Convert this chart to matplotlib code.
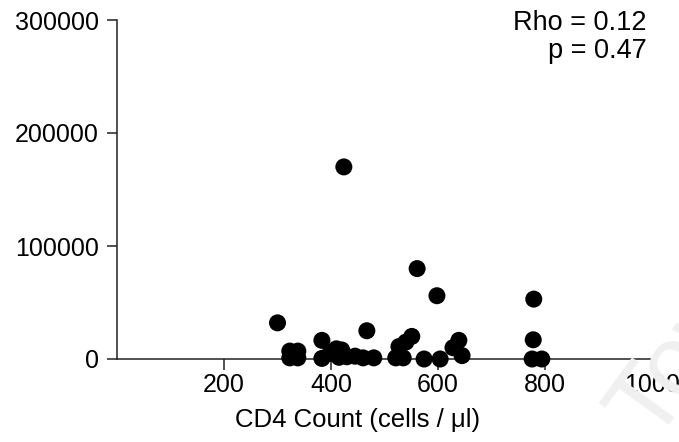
import matplotlib.pyplot as plt

plt.rcParams['font.family'] = ['Liberation Sans', 'DejaVu Sans']

# CD4 count (cells/ul) vs value
cd4 = [300, 323, 338, 323, 338, 383, 383, 410, 420, 398,
       424, 415, 430, 445, 460, 480, 467, 521, 535, 527,
       540, 551, 561, 574, 598, 604, 628, 639, 645,
       779, 778, 776, 794]
vals = [32000, 7000, 7000, 1000, 1000, 16500, 500, 9000, 8000, 5000,
        170000, 1500, 2000, 2500, 1000, 1000, 25000, 1000, 1000, 11000,
        15000, 20000, 80000, 0, 56000, 0, 10000, 16500, 3000,
        53000, 17000, 0, 0]

xticks = [200, 400, 600, 800, 1000]
yticks = [0, 100000, 200000, 300000]

fig = plt.figure(figsize=(6.79, 4.42), dpi=100)
ax = fig.add_axes([117 / 679, 83 / 442, 535 / 679, 339 / 442])

ax.scatter(cd4, vals, s=150, color='black', edgecolors='none', clip_on=False, zorder=3)

ax.set_xlim(0, 1000)
ax.set_ylim(0, 300000)
ax.set_xticks(xticks)
ax.set_yticks(yticks)
ax.set_xticklabels([str(t) for t in xticks])
ax.set_yticklabels([str(t) for t in yticks])
ax.tick_params(labelsize=18, width=1.1, length=7, color='#222222', pad=6)
ax.tick_params(axis='x', length=8, pad=2)

for side in ['top', 'right']:
    ax.spines[side].set_visible(False)
for side in ['left', 'bottom']:
    ax.spines[side].set_linewidth(1.1)
    ax.spines[side].set_color('#222222')

ax.set_xlabel('CD4 Count (cells / μl)', fontsize=18.5)
ax.xaxis.set_label_coords(0.45, -0.145)

ax.text(0.99, 1.03, 'Rho = 0.12\np = 0.47', transform=ax.transAxes,
        ha='right', va='top', fontsize=19.5, linespacing=1.12)

# faint watermark
fig.text(0.875, -0.03, 'Town', fontsize=72, color='#f0f0f0', rotation=54,
         ha='left', va='bottom', zorder=0)

fig.savefig('out.png', dpi=100)
